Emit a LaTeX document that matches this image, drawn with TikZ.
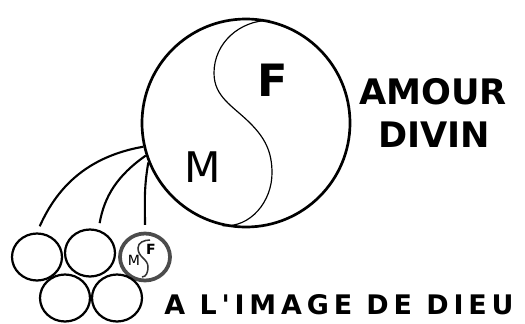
\documentclass[tikz,border=0pt]{standalone}
\usepackage{fontspec}
\setmainfont{DejaVu Sans}[Ligatures=TeXOff]
\usetikzlibrary{shapes.geometric}

\tikzset{
  bubble/.style={ellipse, draw, line width=1.9pt, minimum width=1.5cm, minimum height=1.41cm, inner sep=0pt},
  stem/.style={line width=1.8pt, shorten >=2mm},
  yinyang/.style={line width=1pt},
  lettering/.style={font=\fontsize{30}{30}\selectfont\bfseries, inner sep=0pt}
}

\begin{document}
\begin{tikzpicture}[x=0.03cm,y=0.03cm]
  \useasboundingbox (0,0) rectangle (525,323);

  % Big circle
  \node[circle, draw, line width=2.3pt, minimum size=6.24cm, inner sep=0pt] (amour) at (246,200) {};
  \draw[yinyang] (amour.77) to[out=180,in=90] (214,250) to[out=-90,in=135] (250,200)
    to[out=-45,in=90] (272,150) to[out=-90,in=-5] (amour.257);
  \node[font=\fontsize{38}{38}\selectfont\bfseries] (f) at (273,243) {F};
  \node[font=\fontsize{36}{36}\selectfont] (m) at (203,156) {M};

  % Text on the right
  \node[lettering] (amourtxt) at (433,231) {AMOUR};
  \node[lettering] (divin) at (434,188) {DIVIN};

  % Small circles
  \node[bubble] (b1) at (37,66) {};
  \node[bubble] (b2) at (90,70) {};
  \node[bubble, draw=black!70, line width=3.2pt] (b3) at (145,66) {};
  \node[bubble] (b4) at (65,25) {};
  \node[bubble] (b5) at (117,25) {};

  % Small yin-yang inside
  \begin{scope}[shift={(b3.center)}]
    \draw[line width=1.3pt, black!80] (5,17) to[out=180,in=90] (-7,9) to[out=-90,in=135] (-2,-1)
      to[out=-45,in=90] (3,-10) to[out=-90,in=0] (-3,-20);
    \node[font=\fontsize{12}{12}\selectfont\bfseries, inner sep=0pt] (fsmall) at (6,8) {F};
    \node[font=\fontsize{12}{12}\selectfont, inner sep=0pt] (msmall) at (-11,-3) {M};
  \end{scope}

  % Stems
  \draw[stem] (amour.193) to[out=190,in=66] (b1.north);
  \draw[stem] (amour.198) to[out=215,in=80] (b2.70);
  \draw[stem] (amour.202) to[out=260,in=90] (b3.north);

  % Bottom text
  \node[font=\fontsize{23}{23}\selectfont\bfseries\addfontfeature{LetterSpace=18}, inner sep=0pt] (image) at (339,18) {A L'IMAGE DE DIEU};
\end{tikzpicture}
\end{document}
